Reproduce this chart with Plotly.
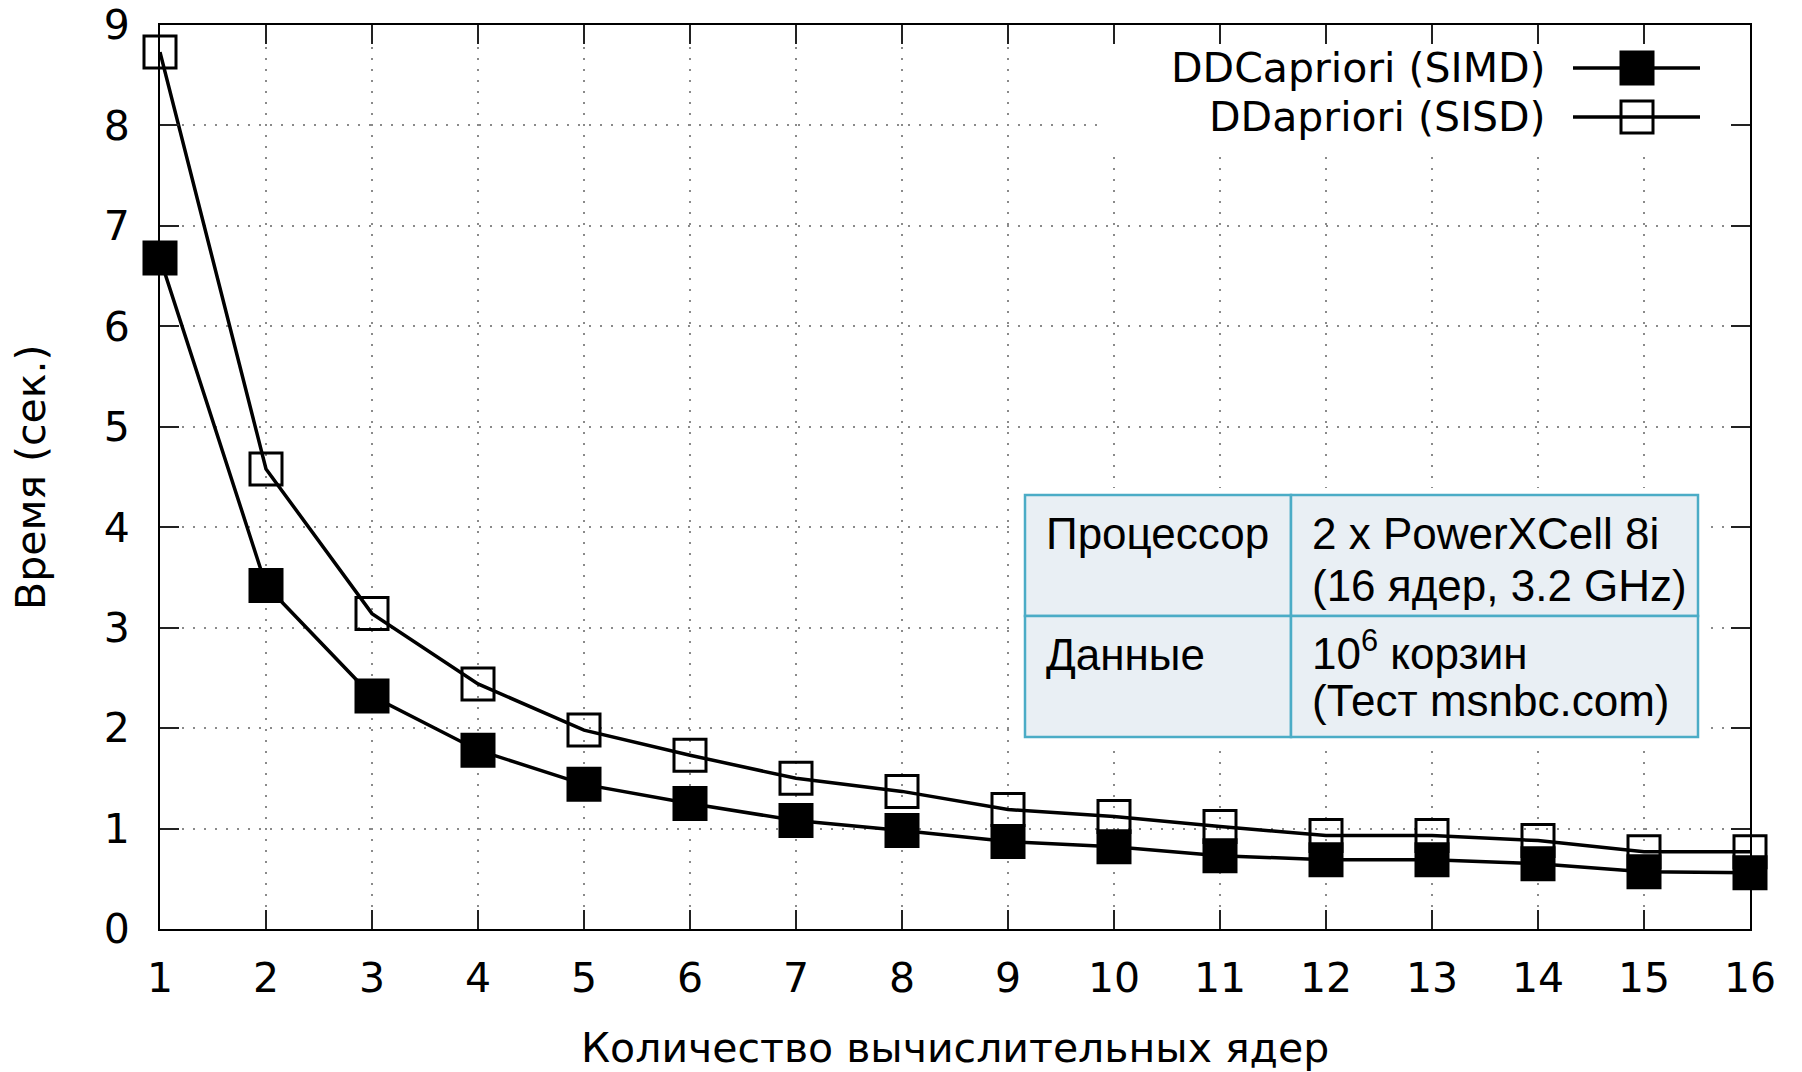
import plotly.graph_objects as go

# ---------------- data ----------------
cores = list(range(1, 17))
simd_time = [6.68, 3.42, 2.32, 1.78, 1.44, 1.25, 1.08, 0.98, 0.87, 0.82, 0.73, 0.69, 0.69, 0.65, 0.57, 0.56]
sisd_time = [8.73, 4.58, 3.14, 2.44, 1.98, 1.73, 1.50, 1.37, 1.19, 1.12, 1.02, 0.93, 0.93, 0.88, 0.77, 0.77]
series_names = ["DDCapriori (SIMD)", "DDapriori (SISD)"]
x_ticks = list(range(1, 17))
y_ticks = list(range(0, 10))
x_title = "Количество вычислительных ядер"
y_title = "Время (сек.)"
table_rows = [
    ["Процессор", ["2 x PowerXCell 8i", "(16 ядер, 3.2 GHz)"]],
    ["Данные", ["10<sup>6</sup> корзин", "(Тест msnbc.com)"]],
]

# ---------------- layout constants ----------------
W, H = 1802, 1072
ML, MR, MT, MB = 160, 52, 25, 143
PW, PH = W - ML - MR, H - MT - MB
FONT = "DejaVu Sans, Verdana, sans-serif"
TFONT = "Liberation Sans, Arial, sans-serif"
FS = 41
MSIZE = 32
MLW = 3


def dx(px):  # pixel x -> x domain
    return (px - ML) / PW


def dy(py):  # pixel y -> y domain
    return (H - MB - py) / PH


fig = go.Figure()

fig.add_trace(go.Scatter(
    x=cores, y=simd_time, mode="lines+markers", name=series_names[0],
    line=dict(color="black", width=3.5),
    marker=dict(symbol="square", size=MSIZE, color="black", line=dict(color="black", width=MLW)),
    cliponaxis=False, showlegend=False))
fig.add_trace(go.Scatter(
    x=cores, y=sisd_time, mode="lines+markers", name=series_names[1],
    line=dict(color="black", width=3.5),
    marker=dict(symbol="square-open", size=MSIZE, color="black", line=dict(color="black", width=MLW)),
    cliponaxis=False, showlegend=False))

shapes = []
annotations = []

# opaque key area (gnuplot style), kept clear of the border ticks
shapes.append(dict(type="rect", xref="x domain", yref="y domain", layer="above",
                   x0=dx(1103), x1=dx(1729), y0=dy(148), y1=dy(46),
                   fillcolor="white", line=dict(width=0)))

# custom key: text on the left, sample on the right
key_rows_py = [68, 117]
key_filled = [True, False]
half = MSIZE / 2
for name, py, filled in zip(series_names, key_rows_py, key_filled):
    annotations.append(dict(xref="x domain", yref="y domain", x=dx(1548), y=dy(py),
                            xanchor="right", yanchor="middle", showarrow=False,
                            text=name, font=dict(family=FONT, size=FS, color="black")))
    shapes.append(dict(type="line", xref="x domain", yref="y domain", layer="above",
                       x0=dx(1573), x1=dx(1700), y0=dy(py), y1=dy(py),
                       line=dict(color="black", width=3.5)))
    shapes.append(dict(type="rect", xref="x domain", yref="y domain", layer="above",
                       x0=dx(1637 - half), x1=dx(1637 + half),
                       y0=dy(py + half), y1=dy(py - half),
                       fillcolor="black" if filled else "rgba(0,0,0,0)",
                       line=dict(color="black", width=MLW)))

# info table
tx0, tx1, txm = dx(1025), dx(1698), dx(1291)
ty0, ty1, tym = dy(495), dy(737), dy(616)
shapes.append(dict(type="rect", xref="x domain", yref="y domain", layer="above",
                   x0=dx(1018), x1=dx(1705), y0=dy(744), y1=dy(488),
                   fillcolor="white", line=dict(width=0)))
for (ya, yb) in [(tym, ty0), (ty1, tym)]:
    for (xa, xb) in [(tx0, txm), (txm, tx1)]:
        shapes.append(dict(type="rect", xref="x domain", yref="y domain", layer="above",
                           x0=xa, x1=xb, y0=ya, y1=yb, fillcolor="#E9EFF4",
                           line=dict(color="#4BACC6", width=2.5)))

row_line_py = [[533, 585], [655, 700]]
for (label, lines), pys in zip(table_rows, row_line_py):
    annotations.append(dict(xref="x domain", yref="y domain", x=dx(1044), y=dy(pys[0]),
                            xanchor="left", yanchor="middle", showarrow=False, text=label,
                            font=dict(family=TFONT, size=44, color="black")))
    for i, (t, py) in enumerate(zip(lines, pys)):
        if "<sup>" in t:
            py -= 5
        annotations.append(dict(xref="x domain", yref="y domain", x=dx(1310), y=dy(py),
                                xanchor="left", yanchor="middle", showarrow=False, text=t,
                                font=dict(family=TFONT, size=44, color="black")))

# axis titles
annotations.append(dict(xref="x domain", yref="y domain", x=0.5, y=dy(1048),
                        xanchor="center", yanchor="middle", showarrow=False, text=x_title,
                        font=dict(family=FONT, size=FS, color="black")))
annotations.append(dict(xref="x domain", yref="y domain", x=dx(31), y=0.5,
                        xanchor="center", yanchor="middle", showarrow=False, text=y_title,
                        textangle=-90, font=dict(family=FONT, size=FS, color="black")))

axis_common = dict(
    ticks="inside", ticklen=19, tickwidth=1.5, tickcolor="#222",
    showline=True, linecolor="black", linewidth=2, mirror="ticks",
    showgrid=True, gridcolor="#8a8a8a", gridwidth=1.5, griddash="2px,9px",
    zeroline=False, tickfont=dict(family=FONT, size=FS, color="black"),
)

fig.update_layout(
    width=W, height=H, margin=dict(l=ML, r=MR, t=MT, b=MB, autoexpand=False),
    paper_bgcolor="white", plot_bgcolor="white", showlegend=False,
    xaxis=dict(range=[1, 16], tickmode="array", tickvals=x_ticks,
               ticklabelstandoff=12, **axis_common),
    yaxis=dict(range=[0, 9], tickmode="array", tickvals=y_ticks,
               ticklabelstandoff=20, **axis_common),
    shapes=shapes, annotations=annotations,
)

fig.write_html("out.html")
